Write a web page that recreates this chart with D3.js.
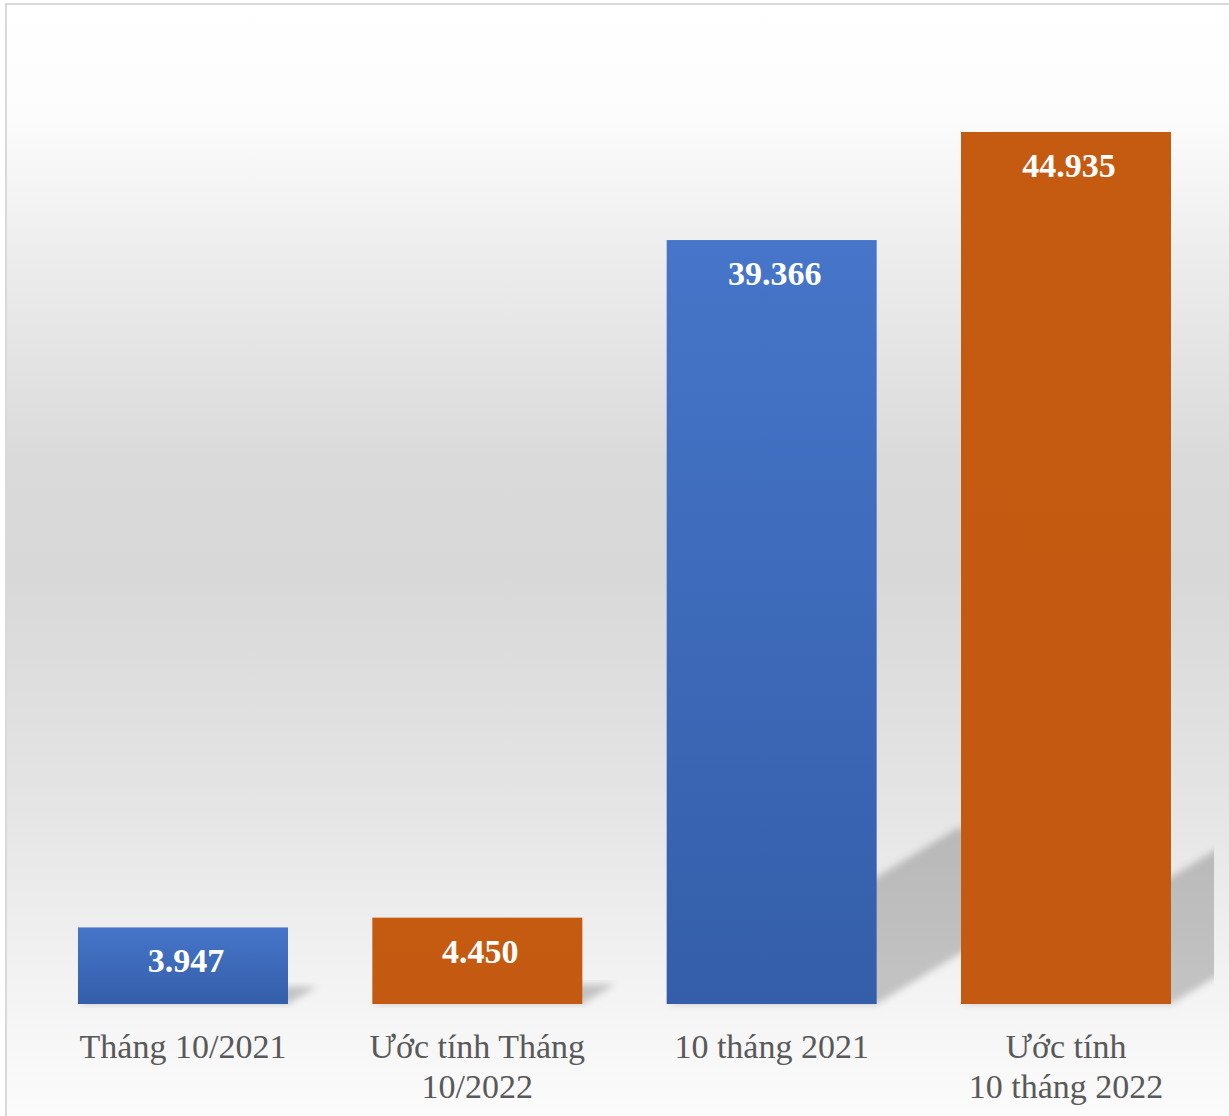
<!DOCTYPE html>
<html>
<head>
<meta charset="utf-8">
<script src="https://cdn.jsdelivr.net/npm/d3@7"></script>
<style>
  html, body { margin: 0; padding: 0; background: #ffffff; }
  svg { display: block; }
</style>
</head>
<body>
<svg id="chart" width="1229" height="1116"></svg>
<script>
// ---- data ----
const categories = ["Tháng 10/2021", "Ước tính Tháng 10/2022", "10 tháng 2021", "Ước tính 10 tháng 2022"];
const categoryLines = [["Tháng 10/2021"], ["Ước tính Tháng", "10/2022"], ["10 tháng 2021"], ["Ước tính", "10 tháng 2022"]];
const values = [3947, 4450, 39366, 44935];
const seriesKey = ["blue", "orange", "blue", "orange"];

// ---- layout ----
const W = 1229, H = 1116;
const base = 1004;
const svg = d3.select("#chart");
const defs = svg.append("defs");

const locale = d3.formatLocale({ decimal: ",", thousands: ".", grouping: [3], currency: ["", ""] });
const fmt = locale.format(",d");

const x = d3.scaleBand().domain(categories).range([35.9, 1213.1]).paddingInner(0.2865).paddingOuter(0.143);
const y = d3.scaleLinear().domain([0, 50000]).range([base, base - 50 * 19.406]);

// background gradient
const bg = defs.append("linearGradient").attr("id", "bgGrad").attr("x1", 0).attr("y1", 0).attr("x2", 0).attr("y2", 1);
[[0, "#ffffff"], [0.1, "#fcfcfc"], [0.22, "#ededed"], [0.4, "#dadada"], [0.5, "#d8d8d8"], [0.72, "#e6e6e6"], [0.86, "#f3f3f3"], [1, "#fdfdfd"]]
  .forEach(([o, c]) => bg.append("stop").attr("offset", o).attr("stop-color", c));

const blueGrad = defs.append("linearGradient").attr("id", "blueGrad").attr("x1", 0).attr("y1", 0).attr("x2", 0).attr("y2", 1);
blueGrad.append("stop").attr("offset", 0).attr("stop-color", "#4675c9");
blueGrad.append("stop").attr("offset", 1).attr("stop-color", "#345ea9");

const orangeGrad = defs.append("linearGradient").attr("id", "orangeGrad").attr("x1", 0).attr("y1", 0).attr("x2", 0).attr("y2", 1);
orangeGrad.append("stop").attr("offset", 0).attr("stop-color", "#c55a11");
orangeGrad.append("stop").attr("offset", 1).attr("stop-color", "#c45a11");

const blur = defs.append("filter").attr("id", "shBlur").attr("x", "-20%").attr("y", "-20%").attr("width", "140%").attr("height", "140%");
blur.append("feGaussianBlur").attr("stdDeviation", 3.5);

defs.append("clipPath").attr("id", "plotClip").append("rect")
  .attr("x", 8).attr("y", 6).attr("width", 1206).attr("height", 1105);

// chart area
svg.append("rect").attr("x", 6).attr("y", 4).attr("width", 1260).attr("height", 1140)
  .attr("fill", "url(#bgGrad)").attr("stroke", "#d9d9d9").attr("stroke-width", 2);

// shadows
const shadowG = svg.append("g").attr("clip-path", "url(#plotClip)");
shadowG.selectAll("polygon").data(values).join("polygon")
  .attr("points", (d, i) => {
    const x0 = x(categories[i]), x1 = x0 + x.bandwidth();
    const h = base - y(d);
    const u = 0.38 * h, v = 0.23 * h;
    return [[x0, base], [x1, base], [x1 + u, base - v], [x0 + u, base - v]].map(p => p.join(",")).join(" ");
  })
  .attr("fill", "#000").attr("fill-opacity", 0.2).attr("filter", "url(#shBlur)");

// bars
svg.append("g").selectAll("rect").data(values).join("rect")
  .attr("x", (d, i) => x(categories[i]))
  .attr("y", d => y(d))
  .attr("width", x.bandwidth())
  .attr("height", d => base - y(d))
  .attr("fill", (d, i) => seriesKey[i] === "blue" ? "url(#blueGrad)" : "url(#orangeGrad)");

// value labels
svg.append("g").selectAll("text").data(values).join("text")
  .attr("x", (d, i) => x(categories[i]) + x.bandwidth() / 2 + 3)
  .attr("y", d => y(d) + 45)
  .attr("text-anchor", "middle")
  .attr("font-family", "'Liberation Serif', 'Times New Roman', serif")
  .attr("font-weight", "bold")
  .attr("font-size", 34)
  .attr("fill", "#ffffff")
  .text(d => fmt(d));

// category labels
const catG = svg.append("g");
categories.forEach((c, i) => {
  const t = catG.append("text")
    .attr("x", x(c) + x.bandwidth() / 2)
    .attr("y", 1058)
    .attr("text-anchor", "middle")
    .attr("font-family", "'Liberation Serif', 'Times New Roman', serif")
    .attr("font-size", 34)
    .attr("fill", "#595959");
  categoryLines[i].forEach((line, j) => {
    t.append("tspan").attr("x", x(c) + x.bandwidth() / 2).attr("dy", j === 0 ? 0 : 40).text(line);
  });
});
</script>
</body>
</html>
